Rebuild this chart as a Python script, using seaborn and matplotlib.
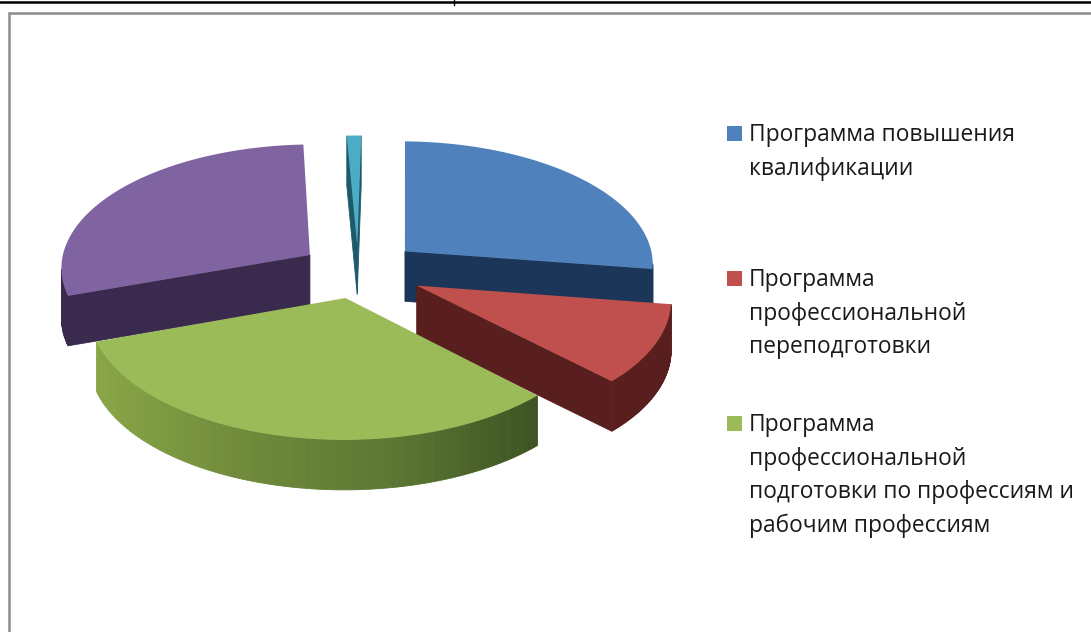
import numpy as np
import seaborn as sns
import matplotlib
matplotlib.use("Agg")
import matplotlib.pyplot as plt
from matplotlib.patches import Rectangle

# chart values
programs = ["Программа повышения\nквалификации",
            "Программа\nпрофессиональной\nпереподготовки",
            "Программа\nпрофессиональной\nподготовки по профессиям и\nрабочим профессиям",
            "Прочие программы",
            "Другое"]
shares = [26.5, 10, 31.5, 29, 1]
gaps = [0.25, 0.26, 0.22, 0.235, 0.22]
top_colors = ["#4F81BD", "#C0504D", "#9BBB59", "#8064A2", "#4BACC6"]
side_colors = ["#1B3658", "#591F1E", None, "#3A2A4E", "#1D5A6C"]
legend_rows = [126, 271, 416]

sns.set_theme(style="white")
plt.rcParams['font.family'] = ['Open Sans', 'DejaVu Sans']

# 3d look of the pie
CX, CY = 358, 271
RX, RY = 250, 123.5
PERSP = 0.092
DEPTH = 50
green_side = sns.blend_palette(["#88A546", "#6F8A3A", "#5C7733", "#3C5222"], 64)


def project(xy):
    s = 1 / (1 + PERSP * xy[:, 1])
    return np.column_stack([CX + RX * xy[:, 0] * s, CY - RY * xy[:, 1] * s])


def outline(wedge):
    t = np.radians(np.linspace(wedge.theta1, wedge.theta2, 120))
    arc = np.column_stack([np.cos(t), np.sin(t)]) * wedge.r + wedge.center
    c = np.array([wedge.center])
    return project(np.vstack([c, arc, c]))


fig = plt.figure(figsize=(10.91, 6.32), dpi=100)
ax = fig.add_axes([0, 0, 1, 1])

wedges, _ = ax.pie(shares, explode=gaps, startangle=89, counterclock=False)
shapes = [outline(w) for w in wedges]
for w in wedges:
    w.remove()

ax.set_aspect("auto")
ax.set_xlim(0, 1091)
ax.set_ylim(632, 0)
ax.axis("off")

# back slices first, green one last
for z, i in enumerate([4, 3, 0, 1, 2]):
    pts = shapes[i]
    area = np.sum(pts[:-1, 0] * pts[1:, 1] - pts[1:, 0] * pts[:-1, 1])
    for a, b in zip(pts[:-1], pts[1:]):
        # only walls that look towards the viewer
        if (b[0] - a[0]) * np.sign(area) >= 0:
            continue
        quad = [a, b, b + [0, DEPTH], a + [0, DEPTH]]
        if side_colors[i] is None:
            k = (0.5 * (a[0] + b[0]) - pts[:, 0].min()) / np.ptp(pts[:, 0])
            col = green_side[int(k * 63)]
        else:
            col = side_colors[i]
        ax.fill(*zip(*quad), color=col, lw=0.6, zorder=2 + z)
    ax.fill(pts[:, 0], pts[:, 1], color=top_colors[i], lw=0, zorder=2.5 + z)

# legend, only three entries are in the picture
for name, col, y in zip(programs[:3], top_colors[:3], legend_rows):
    ax.add_patch(Rectangle((727, y), 15, 15, color=col, lw=0))
    ax.text(749, y - 3, name, fontsize=16.4, color="#1a1a1a", va="top", ha="left", linespacing=1.53)

# chart frame and the line of the page table above it
ax.plot([9, 9, 1091], [632, 13, 13], color="#8c8c8c", lw=1.8, solid_joinstyle="miter")
ax.plot([0, 1091], [2, 2], color="black", lw=1.8)
ax.plot([454, 454], [0, 5], color="black", lw=1)

fig.savefig("out.png", dpi=100)
